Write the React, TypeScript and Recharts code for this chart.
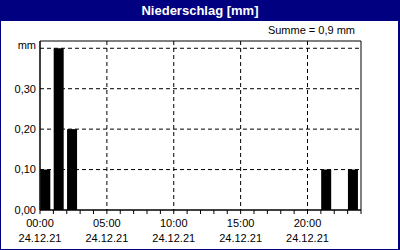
import { ComposedChart, Bar, XAxis, YAxis, CartesianGrid, ReferenceArea } from 'recharts';

const hours = [0, 1, 2, 3, 4, 5, 6, 7, 8, 9, 10, 11, 12, 13, 14, 15, 16, 17, 18, 19, 20, 21, 22, 23];
const rain = [0.1, 0.4, 0.2, 0, 0, 0, 0, 0, 0, 0, 0, 0, 0, 0, 0, 0, 0, 0, 0, 0, 0, 0.1, 0, 0.1];
const yTicks = [0, 0.1, 0.2, 0.3, 0.4];
const hourTicks = [0, 1, 2, 3, 4, 5, 6, 7, 8, 9, 10, 11, 12, 13, 14, 15, 16, 17, 18, 19, 20, 21, 22, 23, 24];
const labelHours = [0, 5, 10, 15, 20];
const dateLabel = '24.12.21';
const title = 'Niederschlag [mm]';
const sumText = 'Summe = 0,9 mm';

const data = hours.map((h, i) => ({ h, v: rain[i] }));

const FONT = '"Liberation Sans", Arial, sans-serif';
const NAVY = '#000080';

const XTick = (props: any) => {
  const { x, y, payload } = props;
  if (!labelHours.includes(payload.value)) return null;
  const hh = String(payload.value).padStart(2, '0') + ':00';
  return (
    <g>
      <text x={x} y={y + 11} textAnchor="middle" fontSize={11} fontFamily={FONT} fill="#000">{hh}</text>
      <text x={x} y={y + 26} textAnchor="middle" fontSize={11} fontFamily={FONT} fill="#000">{dateLabel}</text>
    </g>
  );
};

const YTick = (props: any) => {
  const { x, y, payload } = props;
  const isTop = payload.value === 0.4;
  const txt = isTop ? 'mm' : payload.value.toFixed(2).replace('.', ',');
  return (
    <text x={x} y={isTop ? y - 3 : y} dy="0.355em" textAnchor="end" fontSize={11} fontFamily={FONT} fill="#000">{txt}</text>
  );
};

const BarShape = (p: any) => {
  if (!p.height) return null;
  return <rect x={p.x + p.width / 2} y={p.y} width={p.width} height={p.height} fill="#000" />;
};

export default function App() {
  return (
    <div style={{ position: 'fixed', left: 0, top: 0, width: 400, height: 250, background: NAVY }}>
      <div style={{ position: 'absolute', left: 1, top: 21, width: 397, height: 228, background: '#fff' }} />
      <div style={{ position: 'absolute', left: 0, top: 0, width: 400, height: 21, lineHeight: '21px', textAlign: 'center', color: '#fff', fontWeight: 'bold', fontSize: 13, fontFamily: FONT }}>
        {title}
      </div>
      <div style={{ position: 'absolute', right: 45, top: 24, fontSize: 11, fontFamily: FONT, color: '#000' }}>
        {sumText}
      </div>
      <div style={{ position: 'absolute', left: 0, top: 0 }}>
        <ComposedChart width={400} height={250} data={data} margin={{ top: 41, right: 39, bottom: 2, left: 0 }}>
          <CartesianGrid
            stroke="#000"
            strokeDasharray="4 3"
            verticalValues={[5, 10, 15, 20]}
            horizontalValues={[0.1, 0.2, 0.3, 0.4]}
          />
          <XAxis
            dataKey="h"
            type="number"
            domain={[0, 24]}
            ticks={hourTicks}
            interval={0}
            height={38}
            tickSize={4}
            stroke="#000"
            tick={<XTick />}
          />
          <YAxis
            type="number"
            domain={[0, 0.418]}
            ticks={yTicks}
            width={40}
            tickLine={false}
            tickSize={0}
            tickMargin={4}
            stroke="#000"
            tick={<YTick />}
          />
          <Bar dataKey="v" barSize={10} shape={<BarShape />} isAnimationActive={false} />
          <ReferenceArea x1={0} x2={24} y1={0} y2={0.418} fill="none" stroke="#000" strokeWidth={1} />
        </ComposedChart>
      </div>
    </div>
  );
}
